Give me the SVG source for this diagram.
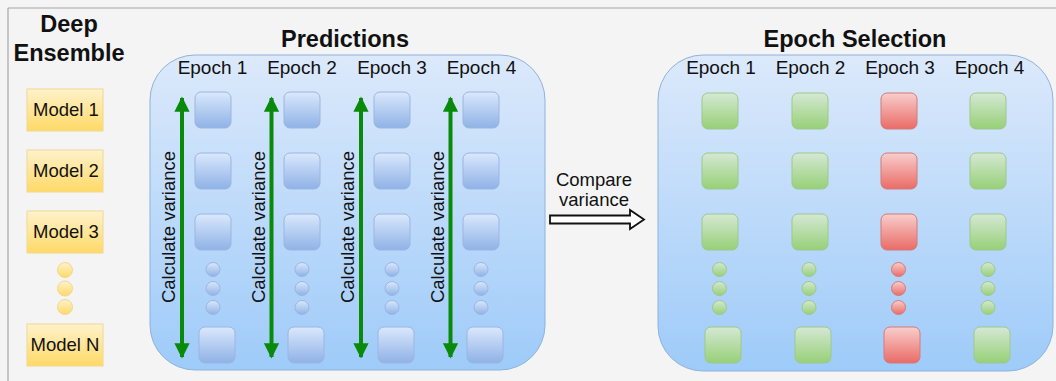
<svg xmlns="http://www.w3.org/2000/svg" width="1056" height="381" viewBox="0 0 1056 381">
  <defs>
    <linearGradient id="gPanel" x1="0" y1="0" x2="0" y2="1">
      <stop offset="0" stop-color="#dce9fb"/>
      <stop offset="1" stop-color="#9ecbf9"/>
    </linearGradient>
    <linearGradient id="gBlue" x1="0" y1="0" x2="0" y2="1">
      <stop offset="0" stop-color="#dae8fc"/>
      <stop offset="1" stop-color="#8fb2e6"/>
    </linearGradient>
    <linearGradient id="gGreen" x1="0" y1="0" x2="0" y2="1">
      <stop offset="0" stop-color="#d5e8d4"/>
      <stop offset="1" stop-color="#97d077"/>
    </linearGradient>
    <linearGradient id="gRed" x1="0" y1="0" x2="0" y2="1">
      <stop offset="0" stop-color="#f8cecc"/>
      <stop offset="1" stop-color="#ea6b66"/>
    </linearGradient>
    <linearGradient id="gYellow" x1="0" y1="0" x2="0" y2="1">
      <stop offset="0" stop-color="#fff2cc"/>
      <stop offset="1" stop-color="#ffd966"/>
    </linearGradient>
    <marker id="headG" viewBox="0 0 10 10" refX="9" refY="5" markerWidth="4" markerHeight="3.8" orient="auto-start-reverse" markerUnits="strokeWidth">
      <path d="M0,0 L10,5 L0,10 Z" fill="#0a8a0a"/>
    </marker>
  </defs>
  <style>
    text { font-family: "Liberation Sans", Arial, sans-serif; fill: #111; }
    .title { font-size: 23.5px; font-weight: bold; text-anchor: middle; }
    .lbl { font-size: 19px; text-anchor: middle; }
    .mlbl { font-size: 18.5px; text-anchor: middle; }
    .vlbl { font-size: 18.5px; text-anchor: middle; }
    .panel { fill: url(#gPanel); stroke: #8eb2dc; stroke-width: 1; }
    .sqB { fill: url(#gBlue); stroke: #9bb6e0; stroke-width: 1; }
    .sqG { fill: url(#gGreen); stroke: #9cc98a; stroke-width: 1; }
    .sqR { fill: url(#gRed); stroke: #d37b78; stroke-width: 1; }
    .model { fill: url(#gYellow); stroke: #f0d890; stroke-width: 1; }
    .dotB { fill: url(#gBlue); stroke: #9bb6e0; stroke-width: 1; }
    .dotG { fill: url(#gGreen); stroke: #9cc98a; stroke-width: 1; }
    .dotR { fill: url(#gRed); stroke: #d37b78; stroke-width: 1; }
    .dotY { fill: url(#gYellow); stroke: #f0d890; stroke-width: 1; }
    .varArrow { stroke: #0a8a0a; stroke-width: 4; fill: none; marker-start: url(#headG); marker-end: url(#headG); }
  </style>

  <!-- canvas and frame -->
  <rect x="0" y="0" width="1056" height="381" fill="#f4f4f4"/>
  <line x1="8" y1="8" x2="1056" y2="8" stroke="#a6a6a6" stroke-width="1.2"/>
  <line x1="8" y1="8" x2="8" y2="381" stroke="#a6a6a6" stroke-width="1.2"/>

  <!-- ensemble column -->
  <g id="ensemble">
    <text class="title" x="69" y="32">Deep</text>
    <text class="title" x="69" y="61">Ensemble</text>
    <g id="model1"><rect class="model" x="27" y="89" width="76" height="42"/><text class="mlbl" x="66" y="116">Model 1</text></g>
    <g id="model2"><rect class="model" x="27" y="150" width="76" height="42"/><text class="mlbl" x="66" y="177">Model 2</text></g>
    <g id="model3"><rect class="model" x="27" y="211" width="76" height="42"/><text class="mlbl" x="66" y="238">Model 3</text></g>
    <g id="modelDots">
      <circle class="dotY" cx="65" cy="270" r="7.5"/>
      <circle class="dotY" cx="65" cy="288.5" r="7.5"/>
      <circle class="dotY" cx="65" cy="307" r="7.5"/>
    </g>
    <g id="modelN"><rect class="model" x="27" y="324" width="76" height="42"/><text class="mlbl" x="65" y="351">Model N</text></g>
  </g>

  <!-- predictions panel -->
  <g id="predictions">
    <text class="title" x="345" y="47">Predictions</text>
    <rect class="panel" x="150" y="55" width="395" height="315" rx="45" ry="45"/>
    <text class="lbl" x="212.5" y="74">Epoch 1</text>
    <text class="lbl" x="302" y="74">Epoch 2</text>
    <text class="lbl" x="392" y="74">Epoch 3</text>
    <text class="lbl" x="481.5" y="74">Epoch 4</text>

    <g id="predCol1">
      <rect class="sqB" x="195" y="92" width="36" height="36" rx="6"/>
      <rect class="sqB" x="195" y="153" width="36" height="36" rx="6"/>
      <rect class="sqB" x="195" y="214" width="36" height="36" rx="6"/>
      <circle class="dotB" cx="213" cy="269.5" r="7"/>
      <circle class="dotB" cx="213" cy="288.5" r="7"/>
      <circle class="dotB" cx="213" cy="307.5" r="7"/>
      <rect class="sqB" x="199" y="327" width="36" height="36" rx="6"/>
    </g>
    <g id="predCol2">
      <rect class="sqB" x="284" y="92" width="36" height="36" rx="6"/>
      <rect class="sqB" x="284" y="153" width="36" height="36" rx="6"/>
      <rect class="sqB" x="284" y="214" width="36" height="36" rx="6"/>
      <circle class="dotB" cx="302" cy="269.5" r="7"/>
      <circle class="dotB" cx="302" cy="288.5" r="7"/>
      <circle class="dotB" cx="302" cy="307.5" r="7"/>
      <rect class="sqB" x="288" y="327" width="36" height="36" rx="6"/>
    </g>
    <g id="predCol3">
      <rect class="sqB" x="374" y="92" width="36" height="36" rx="6"/>
      <rect class="sqB" x="374" y="153" width="36" height="36" rx="6"/>
      <rect class="sqB" x="374" y="214" width="36" height="36" rx="6"/>
      <circle class="dotB" cx="392" cy="269.5" r="7"/>
      <circle class="dotB" cx="392" cy="288.5" r="7"/>
      <circle class="dotB" cx="392" cy="307.5" r="7"/>
      <rect class="sqB" x="378" y="327" width="36" height="36" rx="6"/>
    </g>
    <g id="predCol4">
      <rect class="sqB" x="463" y="92" width="36" height="36" rx="6"/>
      <rect class="sqB" x="463" y="153" width="36" height="36" rx="6"/>
      <rect class="sqB" x="463" y="214" width="36" height="36" rx="6"/>
      <circle class="dotB" cx="481" cy="269.5" r="7"/>
      <circle class="dotB" cx="481" cy="288.5" r="7"/>
      <circle class="dotB" cx="481" cy="307.5" r="7"/>
      <rect class="sqB" x="467" y="327" width="36" height="36" rx="6"/>
    </g>

    <!-- variance labels -->
    <text class="vlbl" transform="translate(175,227) rotate(-90)">Calculate variance</text>
    <text class="vlbl" transform="translate(264.5,227) rotate(-90)">Calculate variance</text>
    <text class="vlbl" transform="translate(354,227) rotate(-90)">Calculate variance</text>
    <text class="vlbl" transform="translate(443.5,227) rotate(-90)">Calculate variance</text>
  </g>

  <!-- connectors -->
  <g id="connectors">
    <line class="varArrow" x1="182" y1="98" x2="182" y2="357"/>
    <line class="varArrow" x1="271.5" y1="98" x2="271.5" y2="357"/>
    <line class="varArrow" x1="361" y1="98" x2="361" y2="357"/>
    <line class="varArrow" x1="450.5" y1="98" x2="450.5" y2="357"/>
    <g id="compareArrow">
      <path d="M550,215.5 L630,215.5 L630,210 L644,219.5 L630,229 L630,223.5 L550,223.5 Z" fill="#ffffff" stroke="#111" stroke-width="1.8" stroke-linejoin="miter"/>
      <text class="mlbl" x="594" y="186">Compare</text>
      <text class="mlbl" x="594" y="206">variance</text>
    </g>
  </g>

  <!-- epoch selection panel -->
  <g id="selection">
    <text class="title" x="855" y="47">Epoch Selection</text>
    <rect class="panel" x="658" y="55" width="395" height="316" rx="45" ry="45"/>
    <text class="lbl" x="721" y="74">Epoch 1</text>
    <text class="lbl" x="810.5" y="74">Epoch 2</text>
    <text class="lbl" x="900" y="74">Epoch 3</text>
    <text class="lbl" x="989.5" y="74">Epoch 4</text>

    <g id="selCol1">
      <rect class="sqG" x="702" y="93" width="36" height="36" rx="6"/>
      <rect class="sqG" x="702" y="153" width="36" height="36" rx="6"/>
      <rect class="sqG" x="702" y="214" width="36" height="36" rx="6"/>
      <circle class="dotG" cx="719.5" cy="269.5" r="7"/>
      <circle class="dotG" cx="719.5" cy="288.5" r="7"/>
      <circle class="dotG" cx="719.5" cy="307.5" r="7"/>
      <rect class="sqG" x="705" y="327" width="36" height="36" rx="6"/>
    </g>
    <g id="selCol2">
      <rect class="sqG" x="792" y="93" width="36" height="36" rx="6"/>
      <rect class="sqG" x="792" y="153" width="36" height="36" rx="6"/>
      <rect class="sqG" x="792" y="214" width="36" height="36" rx="6"/>
      <circle class="dotG" cx="809" cy="269.5" r="7"/>
      <circle class="dotG" cx="809" cy="288.5" r="7"/>
      <circle class="dotG" cx="809" cy="307.5" r="7"/>
      <rect class="sqG" x="795" y="327" width="36" height="36" rx="6"/>
    </g>
    <g id="selCol3">
      <rect class="sqR" x="881" y="93" width="36" height="36" rx="6"/>
      <rect class="sqR" x="881" y="153" width="36" height="36" rx="6"/>
      <rect class="sqR" x="881" y="214" width="36" height="36" rx="6"/>
      <circle class="dotR" cx="898.5" cy="269.5" r="7"/>
      <circle class="dotR" cx="898.5" cy="288.5" r="7"/>
      <circle class="dotR" cx="898.5" cy="307.5" r="7"/>
      <rect class="sqR" x="884" y="327" width="36" height="36" rx="6"/>
    </g>
    <g id="selCol4">
      <rect class="sqG" x="970" y="93" width="36" height="36" rx="6"/>
      <rect class="sqG" x="970" y="153" width="36" height="36" rx="6"/>
      <rect class="sqG" x="970" y="214" width="36" height="36" rx="6"/>
      <circle class="dotG" cx="988" cy="269.5" r="7"/>
      <circle class="dotG" cx="988" cy="288.5" r="7"/>
      <circle class="dotG" cx="988" cy="307.5" r="7"/>
      <rect class="sqG" x="974" y="327" width="36" height="36" rx="6"/>
    </g>
  </g>
</svg>
